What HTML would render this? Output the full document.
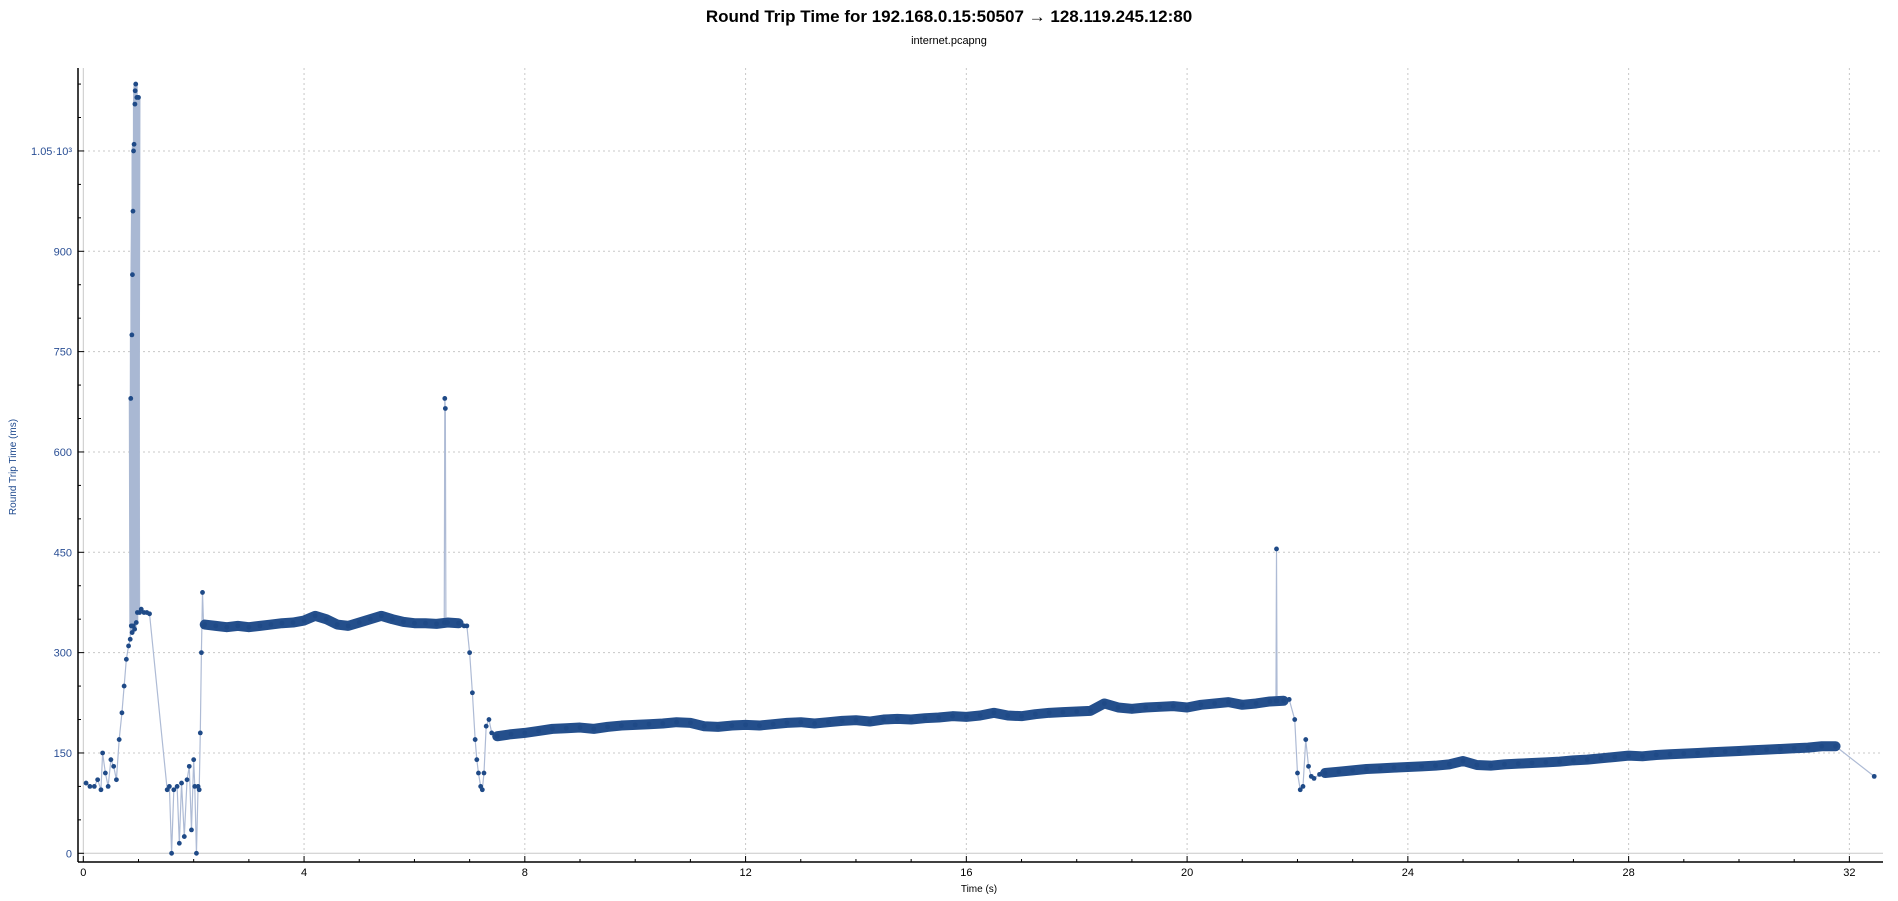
<!DOCTYPE html>
<html><head><meta charset="utf-8"><style>
html,body{margin:0;padding:0;background:#fff;}
svg{display:block;font-family:"Liberation Sans","DejaVu Sans",sans-serif;}
</style></head><body>
<svg id="chart" width="1898" height="901" viewBox="0 0 1898 901" xmlns="http://www.w3.org/2000/svg">
<text x="949" y="22" text-anchor="middle" font-size="17" font-weight="bold" fill="#000">Round Trip Time for 192.168.0.15:50507 → 128.119.245.12:80</text>
<text x="949" y="44" text-anchor="middle" font-size="11" fill="#000">internet.pcapng</text>
<text x="0" y="0" transform="translate(16,467) rotate(-90)" text-anchor="middle" font-size="10" fill="#1f4a8f">Round Trip Time (ms)</text>
<text x="979" y="892" text-anchor="middle" font-size="10" fill="#000">Time (s)</text>
<g id="grid"></g>
<g id="axes"></g>
<g id="series"></g>
</svg>
<script>
const xTicks=[0,4,8,12,16,20,24,28,32];
const yTicks=[0,150,300,450,600,750,900,1050];
const yTickLabels=["0","150","300","450","600","750","900","1.05·10³"];
// early irregular samples (time s, rtt ms)
const earlyT=[0.05,0.12,0.2,0.26,0.32,0.35,0.4,0.45,0.5,0.55,0.6,0.65,0.7,0.74,0.78,0.82,0.85,0.86,0.87,0.88,0.885,0.89,0.9,0.905,0.91,0.92,0.93,0.935,0.94,0.95,0.96,0.97,0.98,1.0,1.02,1.05,1.1,1.15,1.2,1.52,1.56,1.6,1.64,1.7,1.74,1.78,1.83,1.88,1.92,1.96,2.0,2.02,2.05,2.08,2.1,2.12,2.14,2.16,2.18];
const earlyV=[105,100,100,110,95,150,120,100,140,130,110,170,210,250,290,310,320,680,340,775,330,865,960,340,1050,1060,335,1120,1140,1150,345,1130,360,1130,360,365,360,360,358,95,100,0,95,100,15,105,25,110,130,35,140,100,0,100,95,180,300,390,340];
// plateau after slow start (start 2.2 s, step 0.2 s)
const plateauStart=2.2, plateauStep=0.2;
const plateauV=[342,340,338,340,338,340,342,344,345,348,355,350,342,340,345,350,355,350,346,344,344,343,345,344];
// drop around 7 s
const dropT=[6.9,6.95,7.0,7.05,7.1,7.13,7.16,7.2,7.23,7.26,7.3,7.35,7.4];
const dropV=[340,340,300,240,170,140,120,100,95,120,190,200,180];
// middle segment (start 7.5 s, step 0.25 s)
const midStart=7.5, midStep=0.25;
const midV=[175,178,180,183,186,187,188,186,189,191,192,193,194,196,195,190,189,191,192,191,193,195,196,194,196,198,199,197,200,201,200,202,203,205,204,206,210,206,205,208,210,211,212,213,224,218,216,218,219,220,218,222,224,226,222,224,227,228];
// second drop around 22 s
const drop2T=[21.85,21.95,22.0,22.05,22.1,22.15,22.2,22.25,22.3,22.4];
const drop2V=[230,200,120,95,100,170,130,115,112,118];
// late segment (start 22.5 s, step 0.25 s)
const lateStart=22.5, lateStep=0.25;
const lateV=[120,122,124,126,127,128,129,130,131,133,138,132,131,133,134,135,136,137,139,140,142,144,146,145,147,148,149,150,151,152,153,154,155,156,157,158,160,160];
// isolated spikes / tail
const spikeT=[6.54,6.55,6.56,6.57,21.61,21.62,21.63,32.45];
const spikeV=[345,680,665,345,228,455,228,115];

const NS="http://www.w3.org/2000/svg";
const X0=83.3, PXS=55.19, Y0=853.3, PYM=0.6689;
const xs=t=>X0+t*PXS, ys=v=>Y0-v*PYM;
function mk(tag,attrs,parent){const e=document.createElementNS(NS,tag);for(const k in attrs)e.setAttribute(k,attrs[k]);parent.appendChild(e);return e;}
const grid=document.getElementById('grid'), axes=document.getElementById('axes'), ser=document.getElementById('series');

xTicks.forEach(t=>{
  const l=mk('line',{x1:xs(t),x2:xs(t),y1:68,y2:862,stroke:'#c8c8c8','stroke-width':1,'stroke-dasharray':t===0?'':'2,3'},grid);
  
  
});
yTicks.forEach(v=>{
  const l=mk('line',{x1:78,x2:1883,y1:ys(v),y2:ys(v),stroke:'#c8c8c8','stroke-width':1,'stroke-dasharray':v===0?'':'2,3'},grid);
  
  
});
mk('line',{x1:78,x2:78,y1:68,y2:862,stroke:'#000','stroke-width':1.5},axes);
mk('line',{x1:78,x2:1883,y1:862,y2:862,stroke:'#000','stroke-width':1.5},axes);
for(let t=0;t<=33;t++){const maj=t%4===0;mk('line',{x1:xs(t),x2:xs(t),y1:862,y2:maj?856:859,stroke:'#000','stroke-width':1},axes);}
for(let v=0;v<=1150;v+=50){const maj=v%150===0;mk('line',{x1:78,x2:maj?84:81,y1:ys(v),y2:ys(v),stroke:'#000','stroke-width':1},axes);}
xTicks.forEach(t=>{
  const tx=mk('text',{x:xs(t),y:876,'text-anchor':'middle','font-size':11,fill:'#000'},axes);
  tx.textContent=t;
  
  
});
yTicks.forEach((v,i)=>{
  const tx=mk('text',{x:72,y:ys(v)+4,'text-anchor':'end','font-size':11,fill:'#2a4f95'},axes);
  tx.textContent=yTickLabels[i];
  
  
});

let pts=[];
earlyT.forEach((t,i)=>pts.push({t:t,v:earlyV[i]}));
plateauV.forEach((v,i)=>pts.push({t:plateauStart+i*plateauStep,v:v}));
dropT.forEach((t,i)=>pts.push({t:t,v:dropV[i]}));
midV.forEach((v,i)=>pts.push({t:midStart+i*midStep,v:v}));
drop2T.forEach((t,i)=>pts.push({t:t,v:drop2V[i]}));
lateV.forEach((v,i)=>pts.push({t:lateStart+i*lateStep,v:v}));
spikeT.forEach((t,i)=>pts.push({t:t,v:spikeV[i]}));
pts.sort((a,b)=>a.t-b.t);

const thin=mk('polyline',{points:pts.map(p=>xs(p.t)+','+ys(p.v)).join(' '),fill:'none',stroke:'#aebbd5','stroke-width':1.2},ser);


const cl=pts.filter(p=>p.t>=0.86&&p.t<=1.0);
mk('polyline',{points:cl.map(p=>xs(p.t)+','+ys(p.v)).join(' '),fill:'none',stroke:'#a9b8d3','stroke-width':4},ser);
[[plateauStart,plateauStep,plateauV],[midStart,midStep,midV],[lateStart,lateStep,lateV]].forEach(s=>{
  const b=mk('polyline',{points:s[2].map((v,i)=>xs(s[0]+i*s[1])+','+ys(v)).join(' '),fill:'none',stroke:'#244f8c','stroke-width':10,'stroke-linejoin':'round','stroke-linecap':'round'},ser);
  
  
});
pts.forEach(p=>{
  const c=mk('circle',{cx:xs(p.t),cy:ys(p.v),r:2.4,fill:'#1f4a87'},ser);
  
  
});
</script>
</body></html>
